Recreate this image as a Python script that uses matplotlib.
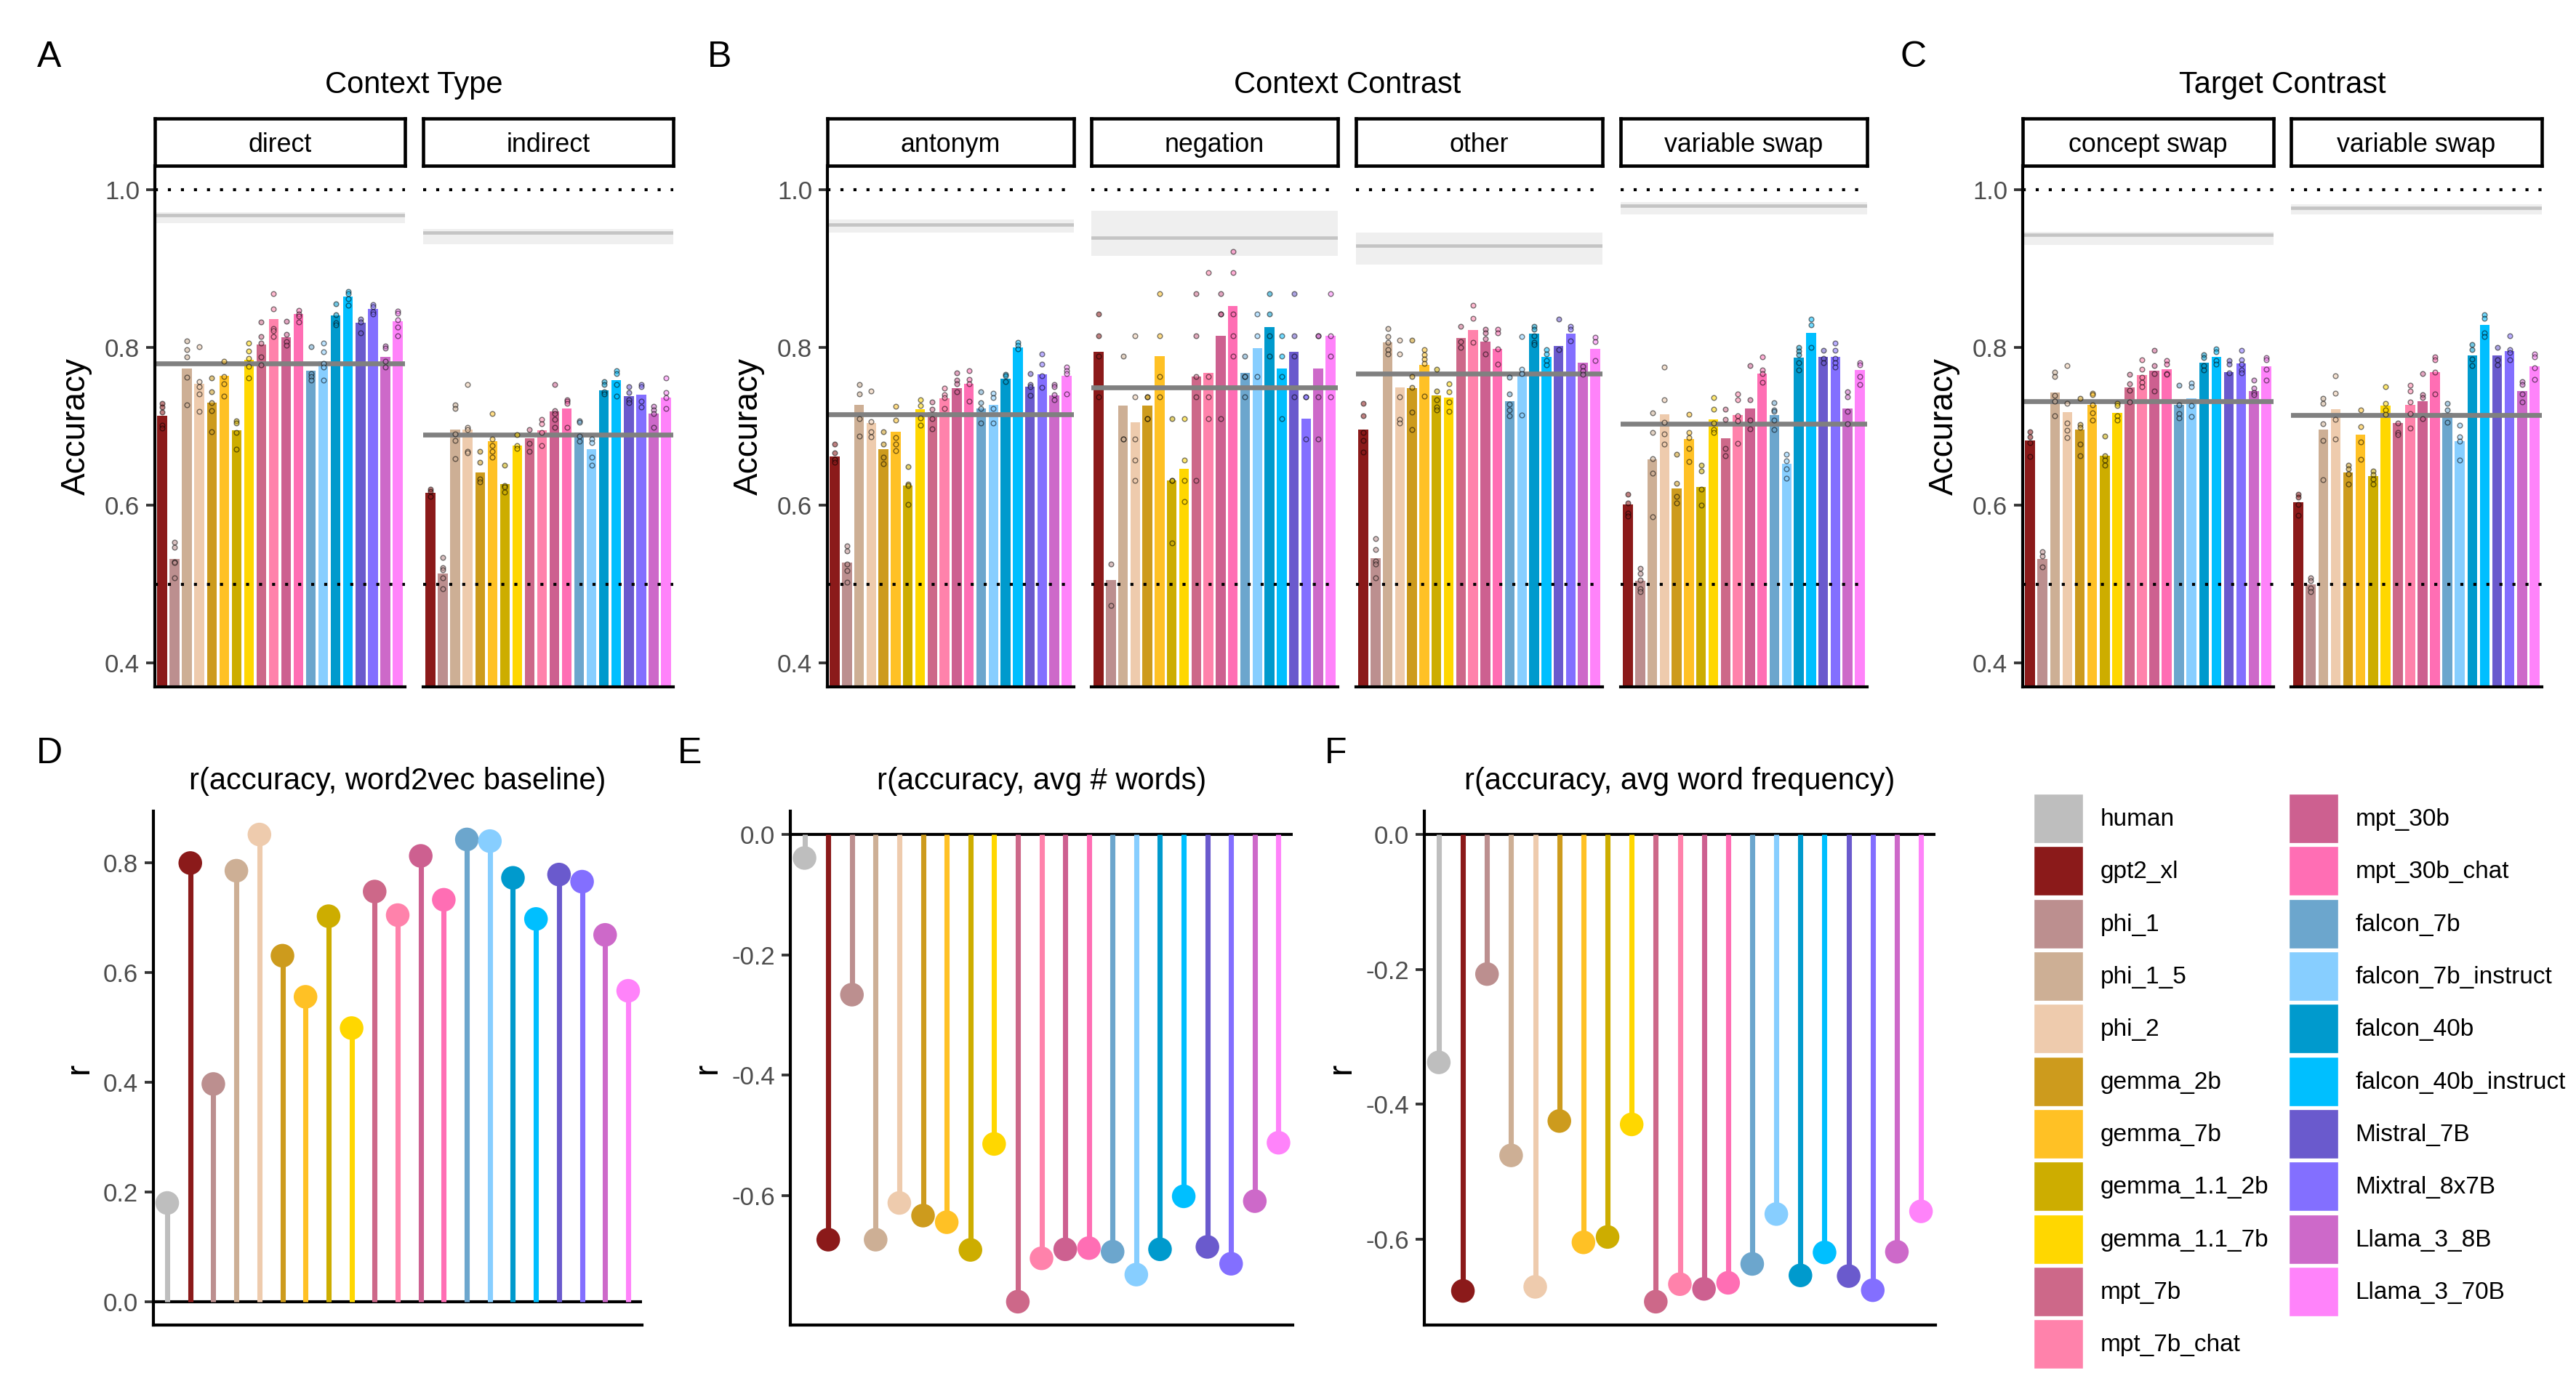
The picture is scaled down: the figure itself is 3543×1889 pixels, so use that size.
import matplotlib
matplotlib.use("Agg")
import matplotlib.pyplot as plt
import numpy as np
from matplotlib.colors import to_rgba
from matplotlib.patches import Patch

plt.rcParams["font.family"] = ["Liberation Sans", "DejaVu Sans"]
plt.rcParams["axes.unicode_minus"] = False

W, H, DPI = 3543, 1889, 300

MODELS = ["human", "gpt2_xl", "phi_1", "phi_1_5", "phi_2", "gemma_2b", "gemma_7b",
          "gemma_1.1_2b", "gemma_1.1_7b", "mpt_7b", "mpt_7b_chat", "mpt_30b",
          "mpt_30b_chat", "falcon_7b", "falcon_7b_instruct", "falcon_40b",
          "falcon_40b_instruct", "Mistral_7B", "Mixtral_8x7B", "Llama_3_8B", "Llama_3_70B"]
COLORS = ["#BEBEBE", "#8B1A1A", "#BC8F8F", "#CDAF95", "#EECBAD", "#CD9B1D", "#FFC125",
          "#CDAD00", "#FFD700", "#CD6889", "#FF82AB", "#CD6090", "#FF6EB4", "#6CA6CD",
          "#87CEFF", "#009ACD", "#00BFFF", "#6A5ACD", "#836FFF", "#CD69C9", "#FF83FA"]

GROUP_TITLES = ["Context Type", "Context Contrast", "Target Contrast"]
FACET_LABELS = ["direct", "indirect", "antonym", "negation", "other",
                "variable swap", "concept swap", "variable swap"]

# mean accuracy per model (human excluded), one list per facet
ACC_DIRECT = [0.713, 0.532, 0.773, 0.754, 0.730, 0.764, 0.695, 0.784, 0.804, 0.836,
              0.813, 0.842, 0.770, 0.782, 0.840, 0.864, 0.831, 0.849, 0.788, 0.833]
ACC_INDIRECT = [0.616, 0.514, 0.696, 0.696, 0.642, 0.681, 0.627, 0.676, 0.685, 0.695,
                0.719, 0.723, 0.692, 0.671, 0.746, 0.758, 0.738, 0.740, 0.716, 0.736]
ACC_ANTONYM = [0.662, 0.527, 0.727, 0.704, 0.671, 0.693, 0.625, 0.722, 0.718, 0.735,
               0.748, 0.754, 0.723, 0.727, 0.760, 0.800, 0.750, 0.766, 0.739, 0.764]
ACC_NEGATION = [0.794, 0.505, 0.726, 0.705, 0.726, 0.789, 0.631, 0.646, 0.763, 0.768,
                0.815, 0.852, 0.768, 0.799, 0.826, 0.773, 0.794, 0.710, 0.773, 0.815]
ACC_OTHER = [0.696, 0.533, 0.806, 0.749, 0.748, 0.778, 0.739, 0.736, 0.812, 0.822,
             0.807, 0.798, 0.732, 0.767, 0.817, 0.788, 0.802, 0.817, 0.781, 0.798]
ACC_VARSWAP_CC = [0.601, 0.504, 0.658, 0.715, 0.621, 0.684, 0.623, 0.709, 0.685, 0.714,
                  0.723, 0.767, 0.714, 0.653, 0.787, 0.818, 0.788, 0.788, 0.723, 0.771]
ACC_CONCEPT = [0.682, 0.532, 0.743, 0.718, 0.696, 0.727, 0.663, 0.717, 0.749, 0.765,
               0.770, 0.772, 0.727, 0.735, 0.781, 0.788, 0.769, 0.780, 0.745, 0.776]
ACC_VARSWAP_TC = [0.604, 0.500, 0.696, 0.722, 0.642, 0.689, 0.637, 0.726, 0.704, 0.727,
                  0.732, 0.769, 0.717, 0.681, 0.790, 0.828, 0.790, 0.795, 0.745, 0.776]

# individual run accuracies per model
PTS_DIRECT = [[0.729, 0.724, 0.718, 0.701, 0.698], [0.553, 0.547, 0.528, 0.527, 0.508],
              [0.808, 0.797, 0.788, 0.762, 0.727], [0.801, 0.757, 0.750, 0.741, 0.719],
              [0.761, 0.744, 0.730, 0.720, 0.693], [0.782, 0.763, 0.754, 0.738],
              [0.707, 0.704, 0.692, 0.671], [0.805, 0.795, 0.786, 0.776, 0.761],
              [0.832, 0.814, 0.805, 0.788, 0.778], [0.868, 0.849, 0.824, 0.821, 0.814],
              [0.833, 0.816, 0.807, 0.803], [0.847, 0.842, 0.839, 0.832],
              [0.801, 0.767, 0.763, 0.758], [0.805, 0.794, 0.780, 0.775, 0.758],
              [0.855, 0.841, 0.831, 0.828], [0.871, 0.868, 0.862, 0.853],
              [0.836, 0.832, 0.818], [0.854, 0.851, 0.845, 0.842],
              [0.802, 0.799, 0.782, 0.775], [0.846, 0.843, 0.835, 0.826, 0.815]]
PTS_INDIRECT = [[0.620, 0.618, 0.611], [0.534, 0.521, 0.518, 0.508, 0.494],
                [0.727, 0.723, 0.690, 0.682, 0.659], [0.753, 0.699, 0.696, 0.668, 0.666],
                [0.668, 0.654, 0.633, 0.630], [0.716, 0.684, 0.676, 0.668, 0.661],
                [0.651, 0.625, 0.623, 0.617], [0.689, 0.676, 0.672],
                [0.696, 0.678, 0.668], [0.709, 0.703, 0.692, 0.676],
                [0.753, 0.720, 0.716, 0.709, 0.699], [0.734, 0.732, 0.729, 0.699],
                [0.707, 0.705, 0.688, 0.681], [0.684, 0.679, 0.661, 0.651],
                [0.757, 0.753, 0.744, 0.741], [0.770, 0.767, 0.753, 0.738],
                [0.750, 0.743, 0.734, 0.730], [0.753, 0.750, 0.732, 0.724],
                [0.725, 0.721, 0.716, 0.699], [0.761, 0.743, 0.736, 0.723]]
PTS_ANTONYM = [[0.677, 0.666, 0.658, 0.654], [0.549, 0.542, 0.526, 0.517, 0.503],
               [0.753, 0.741, 0.710, 0.688], [0.745, 0.706, 0.693, 0.687],
               [0.693, 0.677, 0.661, 0.653], [0.725, 0.708, 0.686, 0.677, 0.669],
               [0.649, 0.627, 0.625, 0.601], [0.734, 0.726, 0.711, 0.701],
               [0.731, 0.722, 0.710, 0.697], [0.748, 0.740, 0.736, 0.723],
               [0.768, 0.758, 0.754, 0.744], [0.770, 0.759, 0.754, 0.732],
               [0.744, 0.730, 0.723, 0.704], [0.742, 0.736, 0.723, 0.704],
               [0.766, 0.764, 0.757], [0.806, 0.803, 0.798],
               [0.767, 0.753, 0.750, 0.739], [0.792, 0.779, 0.764, 0.749],
               [0.753, 0.750, 0.740, 0.734], [0.775, 0.770, 0.767, 0.741]]
PTS_NEGATION = [[0.842, 0.815, 0.789, 0.737], [0.526, 0.473],
                [0.789, 0.684, 0.684], [0.815, 0.737, 0.684, 0.657, 0.631],
                [0.737, 0.737, 0.710, 0.710], [0.868, 0.815, 0.763, 0.737],
                [0.710, 0.631, 0.631, 0.552], [0.710, 0.657, 0.631, 0.605],
                [0.868, 0.815, 0.763, 0.737, 0.631], [0.895, 0.763, 0.737, 0.710],
                [0.868, 0.842, 0.842, 0.710], [0.921, 0.895, 0.842, 0.815, 0.789],
                [0.789, 0.763, 0.763, 0.737], [0.842, 0.815, 0.763],
                [0.868, 0.842, 0.815, 0.789], [0.815, 0.789, 0.763, 0.710],
                [0.868, 0.815, 0.789, 0.737], [0.737, 0.737, 0.684],
                [0.815, 0.815, 0.737, 0.684], [0.868, 0.815, 0.789, 0.737]]
PTS_OTHER = [[0.729, 0.713, 0.692, 0.682, 0.667], [0.558, 0.544, 0.529, 0.526, 0.508],
             [0.824, 0.814, 0.806, 0.797, 0.792], [0.809, 0.792, 0.737, 0.709, 0.704],
             [0.809, 0.763, 0.749, 0.718, 0.696], [0.797, 0.791, 0.785, 0.780, 0.738],
             [0.772, 0.745, 0.734, 0.724, 0.721], [0.754, 0.744, 0.731, 0.719],
             [0.827, 0.807, 0.800], [0.853, 0.837, 0.806],
             [0.823, 0.818, 0.811, 0.792], [0.823, 0.818, 0.798, 0.779],
             [0.762, 0.741, 0.728, 0.721, 0.713], [0.814, 0.772, 0.767, 0.714],
             [0.827, 0.823, 0.815, 0.806, 0.804], [0.797, 0.792, 0.783, 0.778],
             [0.836, 0.797], [0.827, 0.823, 0.808],
             [0.776, 0.770, 0.766], [0.813, 0.807, 0.783]]
PTS_VARSWAP_CC = [[0.614, 0.603, 0.590, 0.586], [0.520, 0.514, 0.505, 0.494, 0.491],
                  [0.717, 0.692, 0.659, 0.641, 0.585], [0.775, 0.734, 0.705, 0.690, 0.677],
                  [0.665, 0.628, 0.611, 0.603], [0.715, 0.692, 0.686, 0.672, 0.655],
                  [0.651, 0.643, 0.620, 0.600], [0.736, 0.722, 0.704, 0.696, 0.692],
                  [0.722, 0.709, 0.672, 0.663], [0.741, 0.734, 0.713, 0.707, 0.678],
                  [0.777, 0.734, 0.708, 0.697], [0.788, 0.771, 0.767, 0.756],
                  [0.730, 0.721, 0.719, 0.708, 0.696], [0.665, 0.656, 0.646, 0.634],
                  [0.800, 0.795, 0.791, 0.781, 0.771], [0.836, 0.828, 0.800],
                  [0.796, 0.786, 0.781], [0.805, 0.796, 0.786, 0.781, 0.775],
                  [0.744, 0.737, 0.719, 0.703], [0.781, 0.778, 0.763, 0.753]]
PTS_CONCEPT = [[0.693, 0.687, 0.679, 0.662], [0.541, 0.536, 0.522],
               [0.769, 0.763, 0.739, 0.732, 0.713], [0.777, 0.729, 0.704, 0.695, 0.686],
               [0.735, 0.702, 0.699, 0.677, 0.663], [0.742, 0.740, 0.727, 0.717, 0.708],
               [0.688, 0.663, 0.657, 0.651], [0.729, 0.726, 0.713, 0.708],
               [0.766, 0.754, 0.746, 0.731], [0.784, 0.772, 0.762, 0.756, 0.750],
               [0.796, 0.777, 0.767, 0.745], [0.783, 0.779, 0.767, 0.766],
               [0.752, 0.727, 0.716, 0.711], [0.755, 0.750, 0.726, 0.712],
               [0.791, 0.787, 0.777, 0.771], [0.798, 0.794, 0.783, 0.779],
               [0.783, 0.779, 0.768], [0.796, 0.784, 0.779, 0.771, 0.768],
               [0.758, 0.748, 0.743, 0.740], [0.787, 0.784, 0.772, 0.758]]
PTS_VARSWAP_TC = [[0.614, 0.610, 0.601, 0.587], [0.508, 0.504, 0.495, 0.491],
                  [0.735, 0.729, 0.703, 0.682, 0.632], [0.764, 0.742, 0.709, 0.684],
                  [0.651, 0.646, 0.640, 0.627], [0.721, 0.700, 0.680, 0.658],
                  [0.643, 0.639, 0.633, 0.627], [0.750, 0.729, 0.721, 0.715],
                  [0.704, 0.692, 0.689], [0.752, 0.745, 0.731, 0.716, 0.698],
                  [0.767, 0.740, 0.736, 0.710], [0.788, 0.784, 0.769, 0.741],
                  [0.729, 0.721, 0.705], [0.701, 0.687, 0.681, 0.657],
                  [0.804, 0.797, 0.785, 0.777], [0.841, 0.837, 0.818, 0.814],
                  [0.800, 0.784, 0.778], [0.815, 0.797, 0.793, 0.784],
                  [0.757, 0.753, 0.741, 0.731], [0.792, 0.788, 0.774, 0.759]]

# human mean with its band, and the mean over models, per facet
HUMAN_MEAN = [0.967, 0.945, 0.955, 0.939, 0.929, 0.979, 0.943, 0.977]
HUMAN_LO = [0.957, 0.931, 0.945, 0.916, 0.905, 0.968, 0.930, 0.968]
HUMAN_HI = [0.971, 0.950, 0.962, 0.973, 0.945, 0.984, 0.946, 0.981]
MODEL_MEAN = [0.780, 0.689, 0.715, 0.749, 0.767, 0.703, 0.732, 0.714]

# correlations per model (human included)
R_W2V = [0.180, 0.800, 0.397, 0.786, 0.852, 0.631, 0.556, 0.703, 0.499, 0.748, 0.705,
         0.813, 0.733, 0.843, 0.840, 0.773, 0.698, 0.779, 0.766, 0.669, 0.567]
R_NWORDS = [-0.039, -0.673, -0.266, -0.673, -0.612, -0.633, -0.644, -0.690, -0.514, -0.776,
            -0.704, -0.689, -0.687, -0.693, -0.731, -0.689, -0.601, -0.685, -0.713, -0.609, -0.512]
R_FREQ = [-0.338, -0.677, -0.207, -0.476, -0.671, -0.425, -0.605, -0.597, -0.430, -0.693,
          -0.667, -0.674, -0.665, -0.637, -0.563, -0.654, -0.620, -0.655, -0.676, -0.619, -0.559]
LOLLI_TITLES = ["r(accuracy, word2vec baseline)", "r(accuracy, avg # words)",
                "r(accuracy, avg word frequency)"]

ACC = [ACC_DIRECT, ACC_INDIRECT, ACC_ANTONYM, ACC_NEGATION, ACC_OTHER,
       ACC_VARSWAP_CC, ACC_CONCEPT, ACC_VARSWAP_TC]
PTS = [PTS_DIRECT, PTS_INDIRECT, PTS_ANTONYM, PTS_NEGATION, PTS_OTHER,
       PTS_VARSWAP_CC, PTS_CONCEPT, PTS_VARSWAP_TC]

TICK_GREY = "#4D4D4D"


def px_axes(fig, x0, y0, x1, y1):
    return fig.add_axes([x0 / W, 1 - y1 / H, (x1 - x0) / W, (y1 - y0) / H])


def style_axis(ax, show_left):
    for side in ("top", "right"):
        ax.spines[side].set_visible(False)
    ax.spines["bottom"].set_linewidth(1.0)
    ax.spines["left"].set_linewidth(1.0)
    ax.spines["left"].set_visible(show_left)
    ax.set_xticks([])
    ax.tick_params(axis="y", length=3, width=0.9, color="#333333",
                   labelsize=8.3, labelcolor=TICK_GREY, pad=2)
    if not show_left:
        ax.set_yticks([])


def bar_facet(fig, i, x0, x1, first):
    acc = ACC[i]
    xs = np.arange(1, len(acc) + 1)
    ax = px_axes(fig, x0, 228, x1, 945)
    ax.axhspan(HUMAN_LO[i], HUMAN_HI[i], color="#EFEFEF", lw=0, zorder=0)
    ax.axhline(HUMAN_MEAN[i], color="#C4C4C4", lw=1.1, zorder=0.5)
    ax.bar(xs, acc, width=0.8, color=COLORS[1:], zorder=1)
    ax.axhline(MODEL_MEAN[i], color="#808080", lw=1.6, zorder=2)
    for x, vals, c in zip(xs, PTS[i], COLORS[1:]):
        ax.plot([x] * len(vals), vals, ls="none", marker="o", ms=1.6,
                mfc=to_rgba(c, 0.55), mec=(0, 0, 0, 0.5), mew=0.35, zorder=3)
    for y in (1.0, 0.5):
        ax.axhline(y, color="black", lw=1.0, ls=(0, (1, 3.3)), zorder=4)
    ax.set_xlim(0.4, len(acc) + 0.6)
    ax.set_ylim(0.37, 1.03)
    style_axis(ax, first)
    if first:
        ax.set_yticks([0.4, 0.6, 0.8, 1.0])
        ax.set_yticklabels(["0.4", "0.6", "0.8", "1.0"])
        ax.set_ylabel("Accuracy", fontsize=11, labelpad=4)

    strip = px_axes(fig, x0, 163, x1, 228)
    strip.set_xticks([])
    strip.set_yticks([])
    for s in strip.spines.values():
        s.set_linewidth(1.1)
    strip.text(0.5, 0.44, FACET_LABELS[i], ha="center", va="center",
               fontsize=8.6, transform=strip.transAxes)


def lollipop(fig, vals, title, x0, x1):
    ax = px_axes(fig, x0, 1116, x1, 1823)
    xs = np.arange(1, len(vals) + 1)
    ax.axhline(0, color="black", lw=1.0, zorder=0.5)
    ax.vlines(xs, 0, vals, colors=COLORS, lw=1.7, zorder=1)
    ax.scatter(xs, vals, s=7.8 ** 2, c=COLORS, lw=0, zorder=2)
    lo, hi = min(0.0, min(vals)), max(0.0, max(vals))
    pad = 0.05 * (hi - lo)
    ax.set_ylim(lo - pad, hi + pad)
    ax.set_xlim(0.4, len(vals) + 0.6)
    style_axis(ax, True)
    ticks = np.arange(np.ceil(lo / 0.2) * 0.2, hi + 1e-9, 0.2)
    ax.set_yticks(ticks)
    ax.set_yticklabels([f"{t:.1f}" if abs(t) > 1e-9 else "0.0" for t in ticks])
    ax.set_ylabel("r", fontsize=11, labelpad=2.7)
    fig.text((x0 + x1) / 2 / W, 1 - 1075 / H, title, ha="center", va="center", fontsize=10)


fig = plt.figure(figsize=(W / DPI, H / DPI), dpi=DPI)

# row 1: bar facets
facet_boxes = [(213, 557), (582, 926),
               (1138, 1477), (1501, 1840), (1865, 2204), (2229, 2568),
               (2782, 3127), (3151, 3496)]
firsts = [True, False, True, False, False, False, True, False]
for i, (x0, x1) in enumerate(facet_boxes):
    bar_facet(fig, i, x0, x1, firsts[i])

group_spans = [(213, 926), (1138, 2568), (2782, 3496)]
for title, (x0, x1) in zip(GROUP_TITLES, group_spans):
    fig.text((x0 + x1) / 2 / W, 1 - 117 / H, title, ha="center", va="center", fontsize=10)

for letter, x in zip("ABC", (68, 990, 2632)):
    fig.text(x / W, 1 - 79 / H, letter, ha="center", va="center", fontsize=12)

# row 2: lollipops
lollipop(fig, R_W2V, LOLLI_TITLES[0], 211, 883)
lollipop(fig, R_NWORDS, LOLLI_TITLES[1], 1087, 1778)
lollipop(fig, R_FREQ, LOLLI_TITLES[2], 1959, 2662)
for letter, x in zip("DEF", (68, 949, 1837)):
    fig.text(x / W, 1 - 1037 / H, letter, ha="center", va="center", fontsize=12)

handles = [Patch(facecolor=c, edgecolor="white", lw=0.8, label=m) for m, c in zip(MODELS, COLORS)]
fig.legend(handles=handles, ncol=2, loc="upper left",
           bbox_to_anchor=(2796 / W, 1 - 1091 / H), frameon=False, fontsize=8,
           handlelength=2.1, handleheight=2.854, labelspacing=0.07, handletextpad=0.69,
           columnspacing=0.78, borderpad=0, borderaxespad=0)

fig.savefig("out.png", dpi=DPI)
